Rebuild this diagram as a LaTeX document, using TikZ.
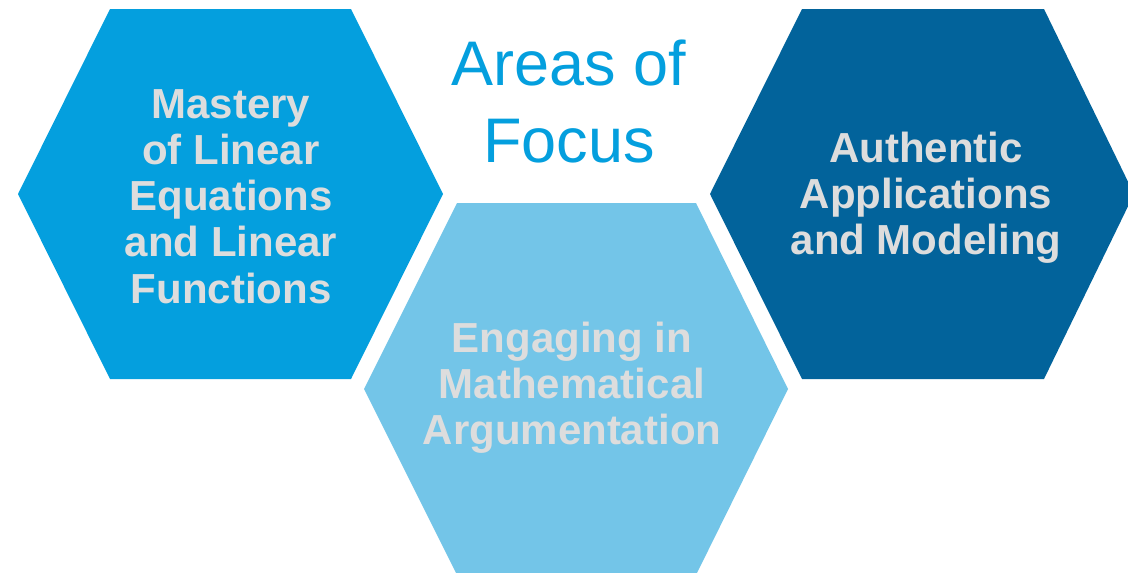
\documentclass[tikz,border=0pt]{standalone}
\usepackage{fontspec}
\setmainfont{Liberation Sans}
\definecolor{hexA}{HTML}{049FDE}
\definecolor{hexB}{HTML}{73C5E8}
\definecolor{hexC}{HTML}{02639B}
\definecolor{txtgray}{HTML}{DDDDDD}
\definecolor{titleblue}{HTML}{049FDE}
\tikzset{
  hexlabel/.style={anchor=base, inner sep=0pt, text=txtgray,
    font=\fontsize{42}{46.3}\selectfont\bfseries},
  titlelabel/.style={anchor=base, inner sep=0pt, text=titleblue,
    font=\fontsize{63}{77}\selectfont}
}
\begin{document}
\begin{tikzpicture}[x=1pt,y=-1pt]
\clip (0,0) rectangle (1128,573);
\fill[white] (0,0) rectangle (1128,573);
% hexagons
\fill[hexA] (18,194) -- (110,9) -- (351,9) -- (443,194) -- (351,379) -- (110,379) -- cycle;
\fill[hexC] (710,194) -- (802,9) -- (1044,9) -- (1134,194) -- (1044,379) -- (802,379) -- cycle;
\fill[hexB] (364,389) -- (457,203) -- (696,203) -- (788,389) -- (696,575) -- (457,575) -- cycle;
% texts
\node[hexlabel] (mastery) at (231,118) {\begin{tabular}[t]{@{}c@{}}Mastery\\of Linear\\Equations\\and Linear\\Functions\end{tabular}};
\node[hexlabel] (authentic) at (926,162) {\begin{tabular}[t]{@{}c@{}}Authentic\\Applications\\and Modeling\end{tabular}};
\node[hexlabel] (engaging) at (572,352) {\begin{tabular}[t]{@{}c@{}}Engaging in\\Mathematical\\Argumentation\end{tabular}};
\node[titlelabel] (title) at (569,85) {\begin{tabular}[t]{@{}c@{}}Areas of\\Focus\end{tabular}};
\end{tikzpicture}
\end{document}
